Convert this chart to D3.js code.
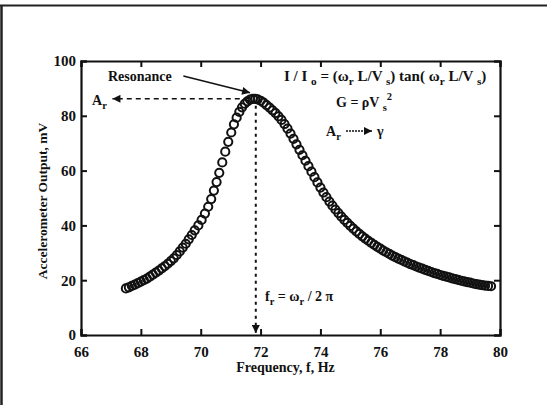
<!DOCTYPE html>
<html>
<head>
<meta charset="utf-8">
<script src="https://cdn.jsdelivr.net/npm/d3@7"></script>
<style>
  body { margin: 0; background: #fff; }
  svg text { font-family: "Liberation Serif", "Times New Roman", serif; font-weight: bold; fill: #111; }
</style>
</head>
<body>
<div id="chart"></div>
<script>
// Frequency sweep (Hz) and accelerometer output (mV)
const freq = [
  67.5, 67.6, 67.7, 67.8, 67.9, 68.0, 68.1, 68.2, 68.3, 68.4, 68.5, 68.6, 68.7, 68.8, 68.9,
  69.0, 69.1, 69.2, 69.3, 69.4, 69.5, 69.6, 69.7, 69.8,
  69.92, 70.03, 70.14, 70.25, 70.35, 70.44, 70.53, 70.62, 70.72, 70.82, 70.92, 71.02, 71.11,
  71.2, 71.29, 71.38, 71.47, 71.56, 71.65, 71.74, 71.82,
  71.9, 72.0, 72.1, 72.2, 72.3, 72.4, 72.5, 72.6, 72.7, 72.8, 72.9,
  73.0, 73.1, 73.2, 73.3, 73.4, 73.5, 73.6, 73.7, 73.8, 73.9,
  74.0, 74.1, 74.2, 74.3, 74.4, 74.5, 74.6, 74.7, 74.8, 74.9,
  75.0, 75.1, 75.2, 75.3, 75.4, 75.5, 75.6, 75.7, 75.8, 75.9,
  76.0, 76.1, 76.2, 76.3, 76.4, 76.5, 76.6, 76.7, 76.8, 76.9,
  77.0, 77.1, 77.2, 77.3, 77.4, 77.5, 77.6, 77.7, 77.8, 77.9,
  78.0, 78.1, 78.2, 78.3, 78.4, 78.5, 78.6, 78.7, 78.8, 78.9,
  79.0, 79.1, 79.2, 79.3, 79.4, 79.5, 79.6, 79.7
];
const amp = [
  17.0, 17.4, 17.9, 18.4, 18.9, 19.5, 20.0, 20.6, 21.3, 22.0, 22.8, 23.5, 24.3, 25.1, 26.0,
  27.0, 28.0, 29.2, 30.5, 31.9, 33.3, 34.9, 36.5, 38.2,
  40.0, 42.0, 44.3, 46.8, 49.6, 52.7, 55.8, 59.2, 63.0, 66.9, 70.5, 73.9, 76.9,
  79.3, 81.4, 83.1, 84.4, 85.3, 85.9, 86.2, 86.2,
  86.0, 85.5, 84.8, 83.9, 83.0, 82.0, 81.0, 79.8, 78.5, 77.0, 75.3,
  73.5, 71.6, 69.6, 67.6, 65.6, 63.6, 61.6, 59.6, 57.6, 55.7,
  53.8, 52.0, 50.3, 48.7, 47.2, 45.8, 44.5, 43.2, 42.0, 40.9,
  39.8, 38.8, 37.8, 36.9, 36.0, 35.2, 34.4, 33.6, 32.9, 32.2,
  31.5, 30.8, 30.2, 29.6, 29.0, 28.4, 27.9, 27.4, 26.9, 26.4,
  25.9, 25.5, 25.0, 24.6, 24.2, 23.8, 23.4, 23.0, 22.6, 22.3,
  21.9, 21.6, 21.3, 21.0, 20.7, 20.4, 20.1, 19.8, 19.6, 19.3,
  19.1, 18.8, 18.6, 18.4, 18.2, 18.0, 17.9, 17.8
];
const xTicks = [66, 68, 70, 72, 74, 76, 78, 80];
const yTicks = [0, 20, 40, 60, 80, 100];
const peakFreq = 71.84;
const peakAmp = 86.2;

const W = 547, H = 405;
const margin = { top: 61, right: 47, bottom: 70, left: 81 };
const width = W - margin.left - margin.right;
const height = H - margin.top - margin.bottom;

const root = d3.select('#chart').append('svg')
  .attr('width', W)
  .attr('height', H);

// outer frame of the figure
root.append('line').attr('x1', 0).attr('x2', W).attr('y1', 5.5).attr('y2', 5.5)
  .attr('stroke', '#222').attr('stroke-width', 2);
root.append('line').attr('x1', 1.5).attr('x2', 1.5).attr('y1', 5).attr('y2', H)
  .attr('stroke', '#222').attr('stroke-width', 2.5);

const defs = root.append('defs');
defs.append('marker')
  .attr('id', 'head')
  .attr('viewBox', '0 0 10 10')
  .attr('refX', 10).attr('refY', 5)
  .attr('markerUnits', 'userSpaceOnUse')
  .attr('markerWidth', 12).attr('markerHeight', 8)
  .attr('orient', 'auto')
  .append('path')
  .attr('d', 'M0,0 L10,5 L0,10 Z')
  .style('fill', '#111').style('stroke', 'none');

const svg = root.append('g')
  .attr('transform', `translate(${margin.left},${margin.top})`);

const x = d3.scaleLinear().domain([66, 80]).range([0, width]);
const y = d3.scaleLinear().domain([0, 100]).range([height, 0]);

// axes, ticks pointing inward on all four sides
svg.append('g')
  .attr('transform', `translate(0,${height})`)
  .call(d3.axisBottom(x).tickValues(xTicks).tickSize(-6).tickPadding(11));
svg.append('g')
  .call(d3.axisTop(x).tickValues(xTicks).tickSize(-6).tickFormat(''));
svg.append('g')
  .call(d3.axisLeft(y).tickValues(yTicks).tickSize(-6).tickPadding(5));
svg.append('g')
  .attr('transform', `translate(${width},0)`)
  .call(d3.axisRight(y).tickValues(yTicks).tickSize(-6).tickFormat(''));

svg.selectAll('.domain').attr('stroke', '#111').attr('stroke-width', 2.2);
svg.selectAll('.tick line').attr('stroke', '#111').attr('stroke-width', 2);
svg.selectAll('.tick text').style('font-size', '15px').attr('fill', '#111');

// data points
svg.selectAll('circle')
  .data(freq.map((f, i) => ({ f, a: amp[i] })))
  .enter()
  .append('circle')
  .attr('cx', d => x(d.f))
  .attr('cy', d => y(d.a))
  .attr('r', 4.1)
  .attr('fill', 'none')
  .attr('stroke', '#111')
  .attr('stroke-width', 2);

// resonance guide lines
svg.append('line')
  .attr('x1', x(peakFreq) - 7).attr('y1', y(peakAmp))
  .attr('x2', x(67.05)).attr('y2', y(peakAmp))
  .attr('stroke', '#111').attr('stroke-width', 1.5)
  .attr('stroke-dasharray', '5,4')
  .attr('marker-end', 'url(#head)');
svg.append('line')
  .attr('x1', x(peakFreq)).attr('y1', y(peakAmp) + 7)
  .attr('x2', x(peakFreq)).attr('y2', y(0) - 2)
  .attr('stroke', '#111').attr('stroke-width', 2)
  .attr('stroke-dasharray', '3,4')
  .attr('marker-end', 'url(#head)');
svg.append('line')
  .attr('x1', x(69.42)).attr('y1', y(94.5))
  .attr('x2', x(71.65)).attr('y2', y(88.4))
  .attr('stroke', '#111').attr('stroke-width', 1.5)
  .attr('marker-end', 'url(#head)');

// rich text helper: parts = [text, 'sub' | 'sup' | null]
function rich(g, px, py, parts, size) {
  const t = g.append('text').attr('x', px).attr('y', py).style('font-size', size + 'px');
  let shift = 0;
  parts.forEach(([s, kind]) => {
    const target = kind === 'sub' ? 4 : kind === 'sup' ? -7 : 0;
    t.append('tspan')
      .attr('dy', target - shift)
      .style('font-size', kind ? (size * 0.75) + 'px' : null)
      .text(s);
    shift = target;
  });
  return t;
}

const ann = svg.append('g');
rich(ann, 108 - margin.left, 81 - margin.top, [['Resonance', null]], 14);
rich(ann, 92 - margin.left, 105 - margin.top, [['A', null], ['r', 'sub']], 14);
rich(ann, 284 - margin.left, 81 - margin.top,
  [['I / I ', null], ['o', 'sub'], [' = (ω', null], ['r', 'sub'], [' L/V ', null], ['s', 'sub'],
   [') tan( ω', null], ['r', 'sub'], [' L/V ', null], ['s', 'sub'], [')', null]], 15);
rich(ann, 336 - margin.left, 107 - margin.top,
  [['G =  ρV ', null], ['s', 'sub'], ['2', 'sup']], 14);
rich(ann, 326 - margin.left, 136 - margin.top, [['A', null], ['r', 'sub']], 14);
ann.append('line')
  .attr('x1', 346 - margin.left).attr('y1', 131 - margin.top)
  .attr('x2', 372 - margin.left).attr('y2', 131 - margin.top)
  .attr('stroke', '#111').attr('stroke-width', 1.3)
  .attr('stroke-dasharray', '2,1')
  .attr('marker-end', 'url(#head)');
rich(ann, 377 - margin.left, 136 - margin.top, [['γ', null]], 14);
rich(ann, 265 - margin.left, 301 - margin.top,
  [['f', null], ['r', 'sub'], [' = ω', null], ['r', 'sub'], [' / 2 π', null]], 14);

// axis titles
svg.append('text')
  .attr('x', width / 2 - 5)
  .attr('y', height + 37)
  .attr('text-anchor', 'middle')
  .style('font-size', '14px')
  .text('Frequency, f, Hz');
svg.append('text')
  .attr('transform', `translate(${47 - margin.left},${height / 2 + 3}) rotate(-90)`)
  .attr('text-anchor', 'middle')
  .style('font-size', '13.5px')
  .text('Accelerometer Output, mV');
</script>
</body>
</html>
